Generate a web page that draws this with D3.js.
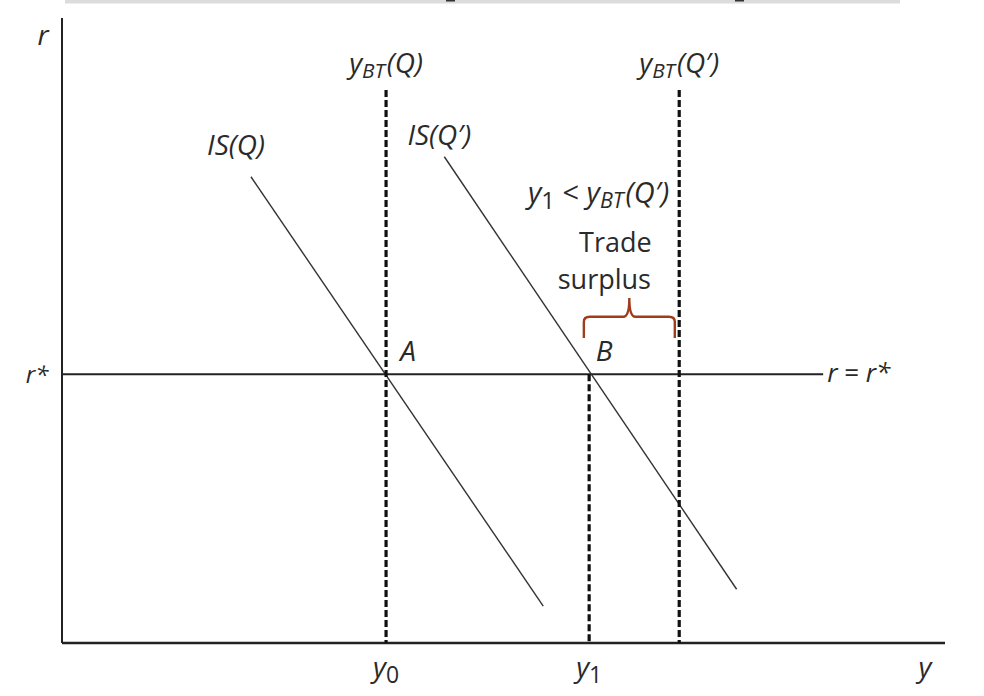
<!DOCTYPE html>
<html><head><meta charset="utf-8">
<script src="https://cdn.jsdelivr.net/npm/d3@7"></script>
<style>
html,body{margin:0;padding:0;background:#fff;}
svg{display:block;}
text{font-family:"Open Sans","Noto Sans",sans-serif;fill:#2a2a2a;}
</style></head>
<body>
<script>
// ---- data (abstract units, x: 0..100, r: 0..100) ----
const rStar = 43.0;
const rLineEnd = 86.2;
const dashedTop = 88.5;
const yLevels = [
  {name:"y0", x:36.7, top:dashedTop},
  {name:"y1", x:59.7, top:rStar},
  {name:"yBTQ2", x:69.9, top:dashedTop}
];
const isCurves = [
  {name:"IS(Q)", pts:[[21.4,74.6],[54.5,5.9]]},
  {name:"IS(Q')", pts:[[43.3,77.8],[76.4,8.6]]}
];
const braceX = [59.1, 69.4];
const braceY = {tip:48.8, bar:52.2, peak:55.2};

const W=984,H=696;
const svg=d3.select("body").append("svg").attr("width",W).attr("height",H);
const x=d3.scaleLinear().domain([0,100]).range([62,945]);
const y=d3.scaleLinear().domain([0,100]).range([643,18]);

// top gray strip (page artifact)
svg.append("rect").attr("x",65).attr("y",0).attr("width",835).attr("height",3.5).attr("fill","#dcdcdc");
svg.append("rect").attr("x",446).attr("y",0).attr("width",9).attr("height",1.5).attr("fill","#333");
svg.append("rect").attr("x",735).attr("y",0).attr("width",9).attr("height",1.5).attr("fill","#333");

// axes
svg.append("line").attr("x1",x(0)).attr("x2",x(0)).attr("y1",y(100)).attr("y2",y(0)).attr("stroke","#222").attr("stroke-width",2);
svg.append("line").attr("x1",x(0)).attr("x2",x(100)).attr("y1",y(0)).attr("y2",y(0)).attr("stroke","#222").attr("stroke-width",2.5);

// r = r* line
svg.append("line").attr("x1",x(0)).attr("x2",x(rLineEnd)).attr("y1",y(rStar)).attr("y2",y(rStar)).attr("stroke","#222").attr("stroke-width",1.8);

// IS curves
const line=d3.line().x(d=>x(d[0])).y(d=>y(d[1]));
isCurves.forEach(c=>{
  svg.append("path").attr("d",line(c.pts)).attr("fill","none").attr("stroke","#333").attr("stroke-width",1.4);
});

// dashed verticals
yLevels.forEach(l=>{
  svg.append("line").attr("x1",x(l.x)).attr("x2",x(l.x)).attr("y1",y(l.top)).attr("y2",y(0))
    .attr("stroke","#111").attr("stroke-width",3.2).attr("stroke-dasharray","7,3");
});

// brace
const bx0=x(braceX[0]),bx1=x(braceX[1]),bm=(bx0+bx1)/2;
const yt=y(braceY.tip),yb=y(braceY.bar),yp=y(braceY.peak);
const p=d3.path();
p.moveTo(bx0,yt); p.lineTo(bx0,yb+5); p.quadraticCurveTo(bx0,yb,bx0+6,yb);
p.lineTo(bm-6,yb); p.quadraticCurveTo(bm,yb,bm,yp);
p.quadraticCurveTo(bm,yb,bm+6,yb); p.lineTo(bx1-6,yb); p.quadraticCurveTo(bx1,yb,bx1,yb+5); p.lineTo(bx1,yt);
svg.append("path").attr("d",p.toString()).attr("fill","none").attr("stroke","#a23a1c").attr("stroke-width",2.4);

// labels
const fs=28;
function lab(tx,ty,anchor,parts,size){
  const sz=size||fs;
  const t=svg.append("text").attr("x",tx).attr("y",ty).attr("text-anchor",anchor).attr("font-size",sz);
  parts.forEach(pt=>{
    const s=t.append("tspan").text(pt.t);
    if(pt.i) s.attr("font-style","italic");
    if(pt.sub){ s.attr("font-size",sz*(pt.scale||0.74)).attr("dy",pt.sub); }
    if(pt.dy) s.attr("dy",pt.dy);
    if(pt.dx) s.attr("dx",pt.dx);
  });
  return t;
}
// axis labels
lab(x(0)-19,y(100)+27,"middle",[{t:"r",i:1}]);
lab(x(0)-25,y(rStar)+9,"middle",[{t:"r*",i:1}],24);
lab(x(100)-20,y(0)+34,"middle",[{t:"y",i:1}]);
lab(x(yLevels[0].x),y(0)+34,"middle",[{t:"y",i:1},{t:"0",sub:6,scale:0.82}]);
lab(x(yLevels[1].x),y(0)+34,"middle",[{t:"y",i:1},{t:"1",sub:6,scale:0.82}]);

// yBT labels
lab(x(yLevels[0].x),y(dashedTop)-17,"middle",[{t:"y",i:1},{t:"BT",i:1,sub:5},{t:"(Q)",i:1,dy:-5,dx:2}]);
lab(x(yLevels[2].x),y(dashedTop)-17,"middle",[{t:"y",i:1},{t:"BT",i:1,sub:5},{t:"(Q′)",i:1,dy:-5,dx:2}]);

// IS labels
lab(x(isCurves[0].pts[0][0])-15,y(isCurves[0].pts[0][1])-22,"middle",[{t:"IS(Q)",i:1}]);
lab(x(isCurves[1].pts[0][0])-5,y(isCurves[1].pts[0][1])-12,"middle",[{t:"IS(Q′)",i:1}]);

// points
lab(x(yLevels[0].x)+22,y(rStar)-13,"middle",[{t:"A",i:1}]);
lab(x(yLevels[1].x)+15,y(rStar)-13,"middle",[{t:"B",i:1}]);

// r = r*
lab(x(rLineEnd)+4,y(rStar)+8,"start",[{t:"r",i:1},{t:" = "},{t:"r*",i:1}],26);

// annotation
lab(x(yLevels[2].x)-10,y(rStar)-171,"end",[{t:"y",i:1},{t:"1",sub:6,scale:0.82},{t:" < ",dy:-6},{t:"y",i:1},{t:"BT",i:1,sub:5},{t:"(Q′)",i:1,dy:-5,dx:2}],29);
lab(bm-14,y(rStar)-122,"middle",[{t:"Trade"}],27);
lab(bm-25,y(rStar)-85,"middle",[{t:"surplus"}],27);
</script>
</body></html>
